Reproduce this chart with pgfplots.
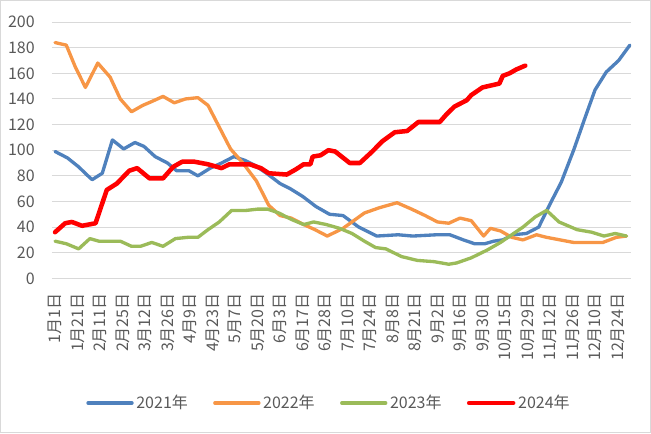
\documentclass[border=0pt]{standalone}
\usepackage{fontspec}
\setmainfont{Noto Sans CJK SC}
\usepackage{pgfplots}
\pgfplotsset{compat=1.18}
\definecolor{c21}{HTML}{4F81BD}
\definecolor{c22}{HTML}{F79646}
\definecolor{c23}{HTML}{9BBB59}
\definecolor{c24}{HTML}{FF0000}
\definecolor{txt}{HTML}{595959}
\definecolor{grd}{HTML}{D9D9D9}
\begin{document}
\begin{tikzpicture}
\path[use as bounding box] (0pt,0pt) rectangle (488.25pt,324.75pt);
\draw[grd, line width=0.75pt] (0.4pt,0.4pt) rectangle (487.85pt,324.35pt);
\begin{axis}[
  at={(39pt,116pt)}, anchor=south west,
  scale only axis, width=434.25pt, height=192.2pt,
  xmin=-0.27, xmax=51.2, ymin=0, ymax=200,
  clip=false,
  ytick={0,20,...,200},
  xtick={0,2,...,50},
  xticklabels={1月1日,1月21日,2月11日,2月25日,3月12日,3月26日,4月9日,4月23日,5月7日,5月20日,6月3日,6月17日,6月28日,7月10日,7月24日,8月8日,8月21日,9月2日,9月16日,9月30日,10月15日,10月29日,11月12日,11月26日,12月10日,12月24日},
  ymajorgrids, major grid style={grd, line width=0.75pt},
  axis line style={draw=none}, major tick length=0pt,
  /pgf/number format/assume math mode=true,
  tick label style={font=\fontsize{12}{14}\selectfont, text=txt},
  yticklabel style={inner sep=0pt, xshift=-12.75pt},
  xticklabel style={rotate=90, anchor=east, inner sep=0pt},
  xticklabel shift=11pt,
  legend style={at={(axis description cs:0.479,-0.4865)}, anchor=center, draw=none, fill=none,
    font=\fontsize{12}{14}\selectfont, text=txt, inner sep=0pt,
    /tikz/every even column/.append style={column sep=17pt}},
  legend columns=4,
  legend image code/.code={\draw[#1, line cap=round] (0pt,0pt) -- (33pt,0pt);},
  every axis plot/.append style={no marks, line join=round, line cap=round},
]
\addplot[c21, line width=2.5pt] coordinates {(0,99)(1.1,94)(2.1,87)(2.8,81)(3.3,77)(4.2,82)(5.1,108)(6.1,101)(7.1,106)(7.9,103)(8.9,95)(10.0,90)(10.8,84)(11.9,84)(12.7,80)(13.8,86)(14.8,90)(15.9,95)(16.9,92)(17.8,88)(18.8,82)(20.0,74)(20.9,70)(22.0,64)(23.2,56)(24.4,50)(25.6,49)(27.0,40)(28.6,33)(30.5,34)(31.8,33)(33.9,34)(35.1,34)(36.3,30)(37.3,27)(38.2,27)(39.0,29)(39.8,30)(40.7,34)(41.9,35)(43.0,40)(44.0,58)(45.0,75)(46.1,100)(47.1,125)(48.0,147)(49.0,161)(50.1,170)(51.1,182)};
\addlegendentry{2021年}
\addplot[c22, line width=2.5pt] coordinates {(0,184)(1.0,182)(1.8,165)(2.7,149)(3.8,168)(4.9,157)(5.8,140)(6.8,130)(7.8,135)(8.6,138)(9.6,142)(10.6,137)(11.6,140)(12.7,141)(13.6,135)(14.6,118)(15.6,101)(16.7,90)(17.9,76)(19.0,57)(20.0,49)(21.0,47)(22.1,42)(23.1,38)(24.2,33)(25.6,39)(27.5,51)(28.8,55)(30.4,59)(31.7,54)(32.9,49)(34.0,44)(35.0,43)(36.0,47)(37.0,45)(38.1,33)(38.7,39)(39.6,37)(40.6,32)(41.6,30)(42.8,34)(43.7,32)(44.9,30)(46.1,28)(48.7,28)(49.9,32)(50.8,33)};
\addlegendentry{2022年}
\addplot[c23, line width=2.5pt] coordinates {(0,29)(1.0,27)(2.1,23)(3.1,31)(3.9,29)(5.8,29)(6.8,25)(7.6,25)(8.6,28)(9.6,25)(10.7,31)(11.8,32)(12.7,32)(13.6,38)(14.6,44)(15.7,53)(17.0,53)(18.0,54)(18.9,54)(19.9,51)(21.0,46)(22.1,42)(23.0,44)(24.1,42)(25.3,39)(26.4,35)(27.5,29)(28.5,24)(29.4,23)(30.8,17)(32.2,14)(33.7,13)(35.0,11)(35.7,12)(37.0,16)(38.4,22)(39.6,28)(40.6,34)(41.6,40)(42.7,48)(43.7,53)(44.8,44)(46.4,38)(47.7,36)(48.8,33)(49.8,35)(50.8,33)};
\addlegendentry{2023年}
\addplot[c24, line width=3.4pt] coordinates {(0,36)(0.9,43)(1.5,44)(2.4,41)(3.6,43)(4.6,69)(5.5,74)(6.6,84)(7.3,86)(8.4,78)(9.6,78)(10.5,87)(11.3,91)(12.4,91)(13.6,89)(14.8,86)(15.5,89)(17.3,89)(18.3,86)(19.0,82)(20.6,81)(21.4,85)(22.1,89)(22.7,89)(22.9,95)(23.6,96)(24.3,100)(24.9,99)(26.2,90)(27.1,90)(28.2,99)(29.1,107)(30.2,114)(31.3,115)(32.3,122)(34.2,122)(34.8,128)(35.5,134)(36.6,139)(37.0,143)(38.0,149)(39.5,152)(39.8,158)(40.4,160)(41.0,163)(41.8,166)};
\addlegendentry{2024年}
\end{axis}
\end{tikzpicture}
\end{document}
